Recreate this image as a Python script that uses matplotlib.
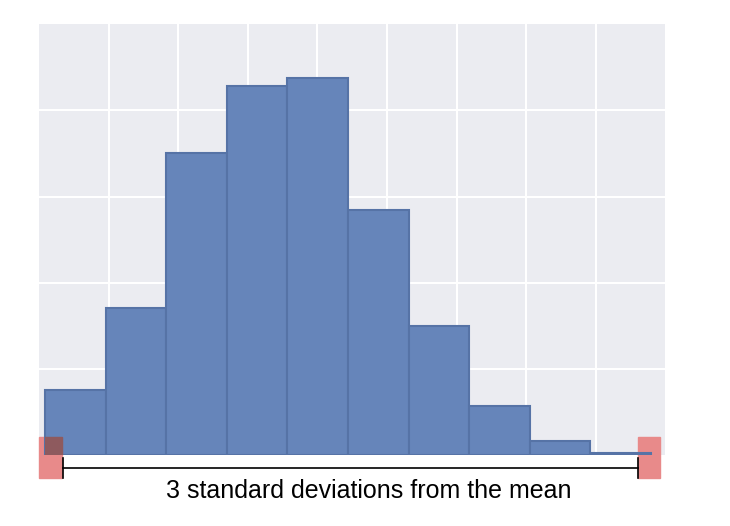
import matplotlib
matplotlib.use("Agg")
import matplotlib.pyplot as plt
from matplotlib.patches import Rectangle

# histogram counts (y units = one grid step), bins of equal width
counts = [0.76, 1.71, 3.51, 4.28, 4.37, 2.84, 1.50, 0.57, 0.16, 0.02]
bin_start = 0.09
bin_width = 0.87
label = "3 standard deviations from the mean"

BG = "#EBECF1"
BAR = "#6685BA"
EDGE = "#5673A6"
PINK = "#E88A8A"

fig = plt.figure(figsize=(7.3, 5.26), dpi=100)
ax = fig.add_axes([0.0534, 0.135, 0.858, 0.819])
ax.set_facecolor(BG)
ax.set_xlim(0, 9)
ax.set_ylim(0, 5)
ax.set_xticks(range(1, 9))
ax.set_yticks(range(1, 5))
ax.tick_params(length=0, labelbottom=False, labelleft=False)
ax.grid(True, color="white", linewidth=1.5)
ax.set_axisbelow(True)
for sp in ax.spines.values():
    sp.set_visible(False)

lefts = [bin_start + i * bin_width for i in range(len(counts))]
bars = ax.bar(lefts, counts, width=bin_width, align="edge", color=BAR,
              edgecolor=EDGE, linewidth=1.5, zorder=2)

# pink end markers, drawn below the axis
sq_y, sq_h = -0.27, 0.48
left_sq = Rectangle((0.0, sq_y), 0.33, sq_h, color=PINK, clip_on=False, zorder=1)
right_sq = Rectangle((8.61, sq_y), 0.32, sq_h, color=PINK, clip_on=False, zorder=1)
ax.add_patch(left_sq)
ax.add_patch(right_sq)
# darker overlap where the left marker sits on the first bar
ov = Rectangle((0.0, sq_y), 0.33, sq_h, color="#8E5A5E", zorder=3)
ax.add_patch(ov)
ov.set_clip_path(bars[0])

# bracket
ax.plot([0.34, 8.61], [-0.15, -0.15], color="black", lw=1.2, clip_on=False, zorder=4)
for xe in (0.34, 8.61):
    ax.plot([xe, xe], [-0.035, -0.27], color="black", lw=1.2, clip_on=False, zorder=4)

ax.text(4.74, -0.42, label, ha="center", va="center", fontsize=18,
        family="Liberation Sans", color="black")

fig.savefig("out.png", dpi=100)
